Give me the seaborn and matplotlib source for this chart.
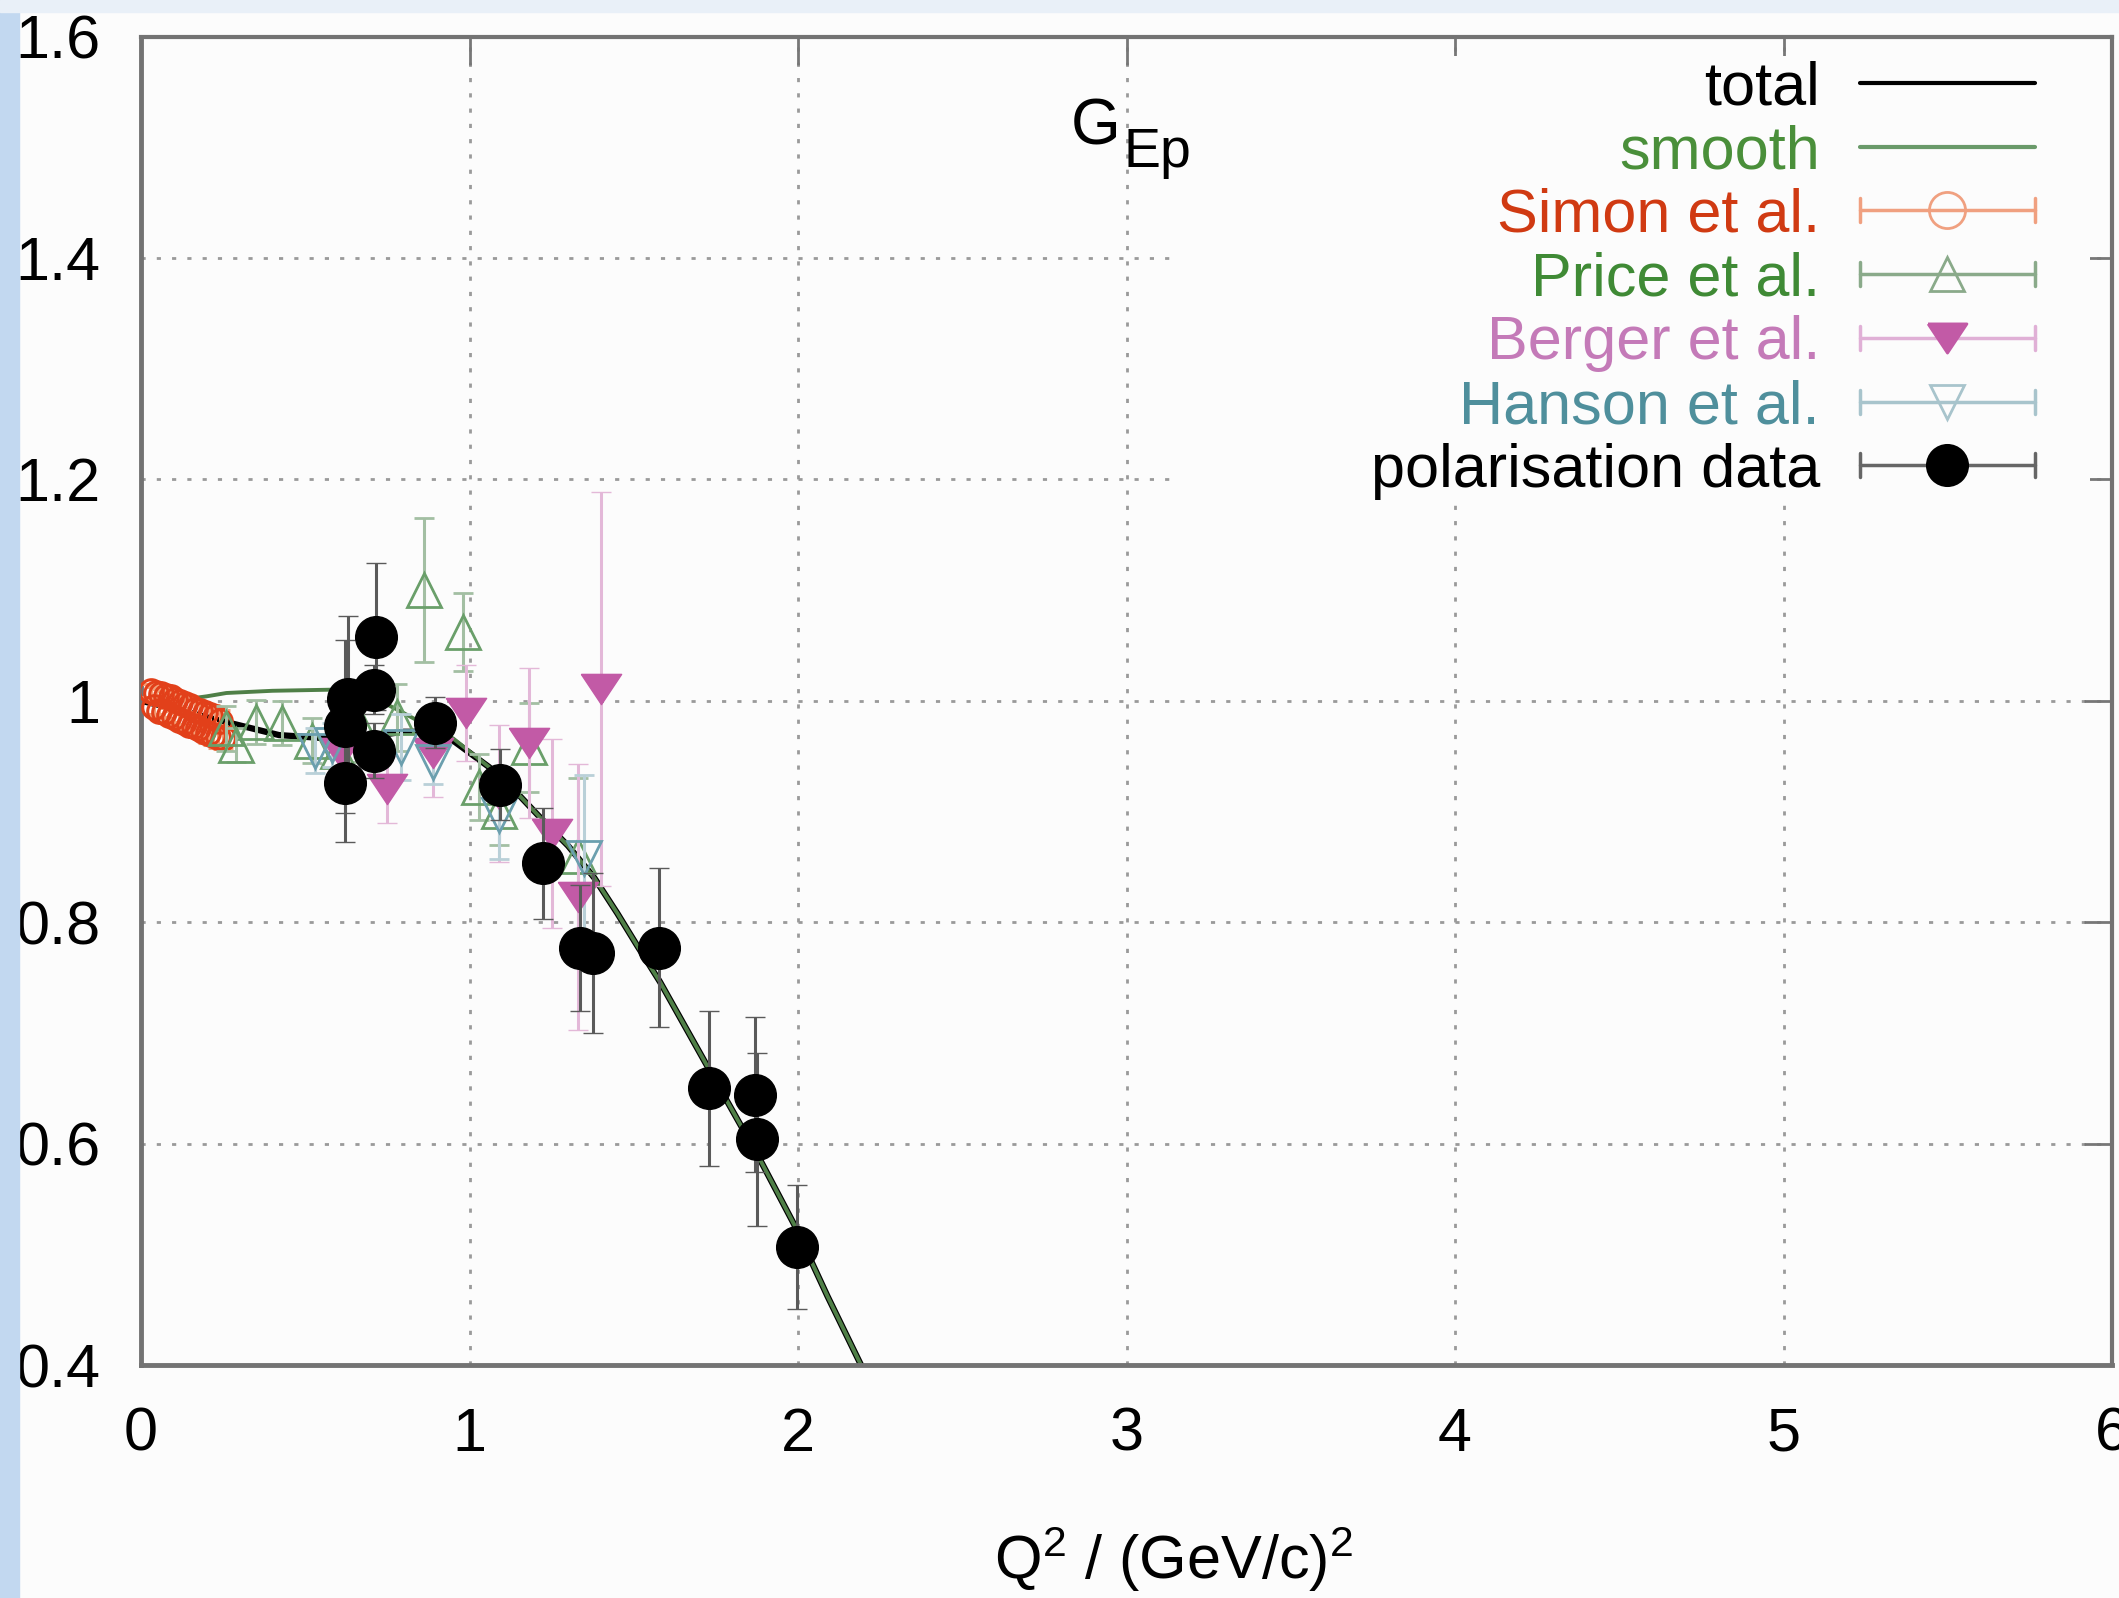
import numpy as np
import matplotlib
matplotlib.use('Agg')
import matplotlib.pyplot as plt
import seaborn as sns
from matplotlib.lines import Line2D
from matplotlib.patches import Rectangle
from matplotlib.legend_handler import HandlerBase

# curves
total_x = [0.0, 0.1, 0.2, 0.27, 0.42, 0.57, 0.7, 0.8, 0.88, 0.95, 1.06, 1.15, 1.22, 1.30, 1.38, 1.45, 1.51, 1.58, 1.72, 1.88, 1.99, 2.09, 2.2]
total_y = [1.0, 0.993, 0.985, 0.980, 0.969, 0.966, 0.968, 0.972, 0.972, 0.964, 0.940, 0.915, 0.893, 0.869, 0.840, 0.808, 0.779, 0.746, 0.672, 0.588, 0.526, 0.462, 0.395]
smooth_x = [0.0, 0.1, 0.2, 0.26, 0.4, 0.58, 0.7, 0.78, 0.88, 0.95, 1.06, 1.15, 1.22, 1.30, 1.38, 1.45, 1.51, 1.58, 1.72, 1.88, 1.99, 2.09, 2.2]
smooth_y = [1.0, 1.0, 1.004, 1.007, 1.009, 1.010, 1.004, 0.992, 0.976, 0.966, 0.940, 0.915, 0.893, 0.869, 0.840, 0.808, 0.779, 0.746, 0.672, 0.588, 0.526, 0.462, 0.395]

# data sets
simon_x = [0.03, 0.04, 0.045, 0.055, 0.06, 0.07, 0.075, 0.085, 0.09, 0.10, 0.105, 0.115, 0.12, 0.13,
           0.135, 0.145, 0.15, 0.16, 0.165, 0.175, 0.18, 0.19, 0.195, 0.205, 0.21, 0.22, 0.225, 0.235, 0.24, 0.25]
simon_y = [1.009, 0.994, 1.007, 0.991, 1.006, 0.990, 1.004, 0.987, 1.003, 0.985, 1.001, 0.983, 0.999, 0.981,
           0.997, 0.978, 0.995, 0.977, 0.992, 0.975, 0.991, 0.973, 0.989, 0.971, 0.987, 0.969, 0.985, 0.967, 0.982, 0.966]
simon_err = [0.006, 0.006, 0.005, 0.006, 0.005, 0.006, 0.005, 0.006, 0.005, 0.006, 0.006, 0.006, 0.006, 0.007, 0.007,
             0.007, 0.007, 0.008, 0.008, 0.008, 0.008, 0.008, 0.008, 0.009, 0.009, 0.009, 0.009, 0.010, 0.010, 0.010]

price_x = [0.26, 0.29, 0.35, 0.43, 0.52, 0.60, 0.67, 0.78, 0.86, 0.98, 1.03, 1.09, 1.18, 1.33]
price_y = [0.975, 0.960, 0.981, 0.980, 0.964, 0.955, 0.975, 0.985, 1.100, 1.062, 0.922, 0.900, 0.958, 0.860]
price_err = [0.02, 0.015, 0.02, 0.02, 0.02, 0.02, 0.03, 0.03, 0.065, 0.035, 0.03, 0.03, 0.04, 0.07]

berger_x = [0.61, 0.75, 0.89, 0.99, 1.09, 1.18, 1.25, 1.33, 1.40]
berger_y = [0.953, 0.920, 0.953, 0.989, 0.916, 0.962, 0.880, 0.823, 1.011]
berger_err = [0.03, 0.03, 0.04, 0.043, 0.062, 0.068, 0.085, 0.12, 0.178]

hanson_x = [0.53, 0.58, 0.79, 0.89, 1.09, 1.35]
hanson_y = [0.955, 0.960, 0.958, 0.945, 0.897, 0.858]
hanson_err = [0.02, 0.02, 0.03, 0.02, 0.04, 0.075]

pol_x = [0.62, 0.62, 0.63, 0.71, 0.71, 0.715, 0.895, 1.093, 1.224, 1.336, 1.376, 1.577, 1.729, 1.869, 1.875, 1.997]
pol_y = [0.926, 0.977, 1.002, 0.955, 1.010, 1.058, 0.980, 0.924, 0.853, 0.777, 0.772, 0.777, 0.650, 0.644, 0.604, 0.507]
pol_err = [0.054, 0.078, 0.075, 0.025, 0.022, 0.066, 0.023, 0.032, 0.05, 0.057, 0.072, 0.072, 0.07, 0.07, 0.078, 0.056]

x_ticks = [0, 1, 2, 3, 4, 5, 6]
x_tick_labels = ['0', '1', '2', '3', '4', '5', '6']
y_ticks = [0.4, 0.6, 0.8, 1.0, 1.2, 1.4, 1.6]
y_tick_labels = ['0.4', '0.6', '0.8', '1', '1.2', '1.4', '1.6']

legend_labels = ['total', 'smooth', 'Simon et al.', 'Price et al.', 'Berger et al.', 'Hanson et al.', 'polarisation data']
legend_colors = ['black', '#4a8f3a', '#d03a12', '#3f8a35', '#c47ab8', '#4f8f9c', 'black']

down_tri = [(-1, 0.75), (1, 0.75), (0, -0.75), (-1, 0.75)]

sns.set_theme(style='white')
plt.rcParams['font.family'] = ['Liberation Sans', 'DejaVu Sans']
plt.rcParams['mathtext.fontset'] = 'custom'
plt.rcParams['mathtext.rm'] = 'Liberation Sans'
plt.rcParams['mathtext.it'] = 'Liberation Sans'

bg = '#fcfcfc'
fig = plt.figure(figsize=(21.19, 15.98), dpi=100, facecolor=bg)
fig.patches.append(Rectangle((0, 0), 19 / 2119, 1, transform=fig.transFigure, color='#c2d8f0', zorder=0))
fig.patches.append(Rectangle((0, 1 - 12 / 1598), 1, 12 / 1598, transform=fig.transFigure, color='#e9f0f8', zorder=0))

ax = fig.add_axes([141 / 2119, 1 - 1365 / 1598, 1971 / 2119, 1328.5 / 1598])
ax.set_facecolor(bg)
ax.set_axisbelow(True)

# opaque key box
ax.add_patch(Rectangle((0.523, 0.6534), 0.466, 0.332, transform=ax.transAxes,
                       facecolor=bg, edgecolor='none', zorder=1))

sns.lineplot(x=total_x, y=total_y, ax=ax, color='black', lw=4.5, sort=False,
             estimator=None, legend=False, zorder=2)
sns.lineplot(x=smooth_x, y=smooth_y, ax=ax, color='#4f7f47', lw=2.8, sort=False,
             estimator=None, legend=False, zorder=2.1)

eb = dict(elinewidth=2.2, capsize=7, capthick=2.5, ls='none')
ax.errorbar(simon_x, simon_y, yerr=simon_err, ecolor='#f2a27a', marker='o', ms=17,
            mfc='none', mec='#e2401a', mew=2.2, zorder=3, **eb)
ax.errorbar(price_x, price_y, yerr=price_err, ecolor='#a3bfa3', marker='^', ms=25,
            mfc='none', mec='#6a9f6a', mew=2, zorder=3.1, **eb)
ax.errorbar(berger_x, berger_y, yerr=berger_err, ecolor='#e3b8d8', marker=down_tri, ms=29,
            mfc='#c25aa6', mec='#c25aa6', mew=1, zorder=3.2, **eb)
ax.errorbar(hanson_x, hanson_y, yerr=hanson_err, ecolor='#b9d0d8', marker='v', ms=24,
            mfc='none', mec='#6b9fae', mew=2, zorder=3.3, **eb)
ax.errorbar(pol_x, pol_y, yerr=pol_err, ecolor='#5a5a5a', marker='o', ms=30,
            mfc='black', mec='black', mew=1, zorder=3.4, **eb)

ax.set_xlim(0, 6)
ax.set_ylim(0.4, 1.6)
ax.set_xticks(x_ticks)
ax.set_xticklabels(x_tick_labels, fontsize=44)
ax.set_yticks(y_ticks)
ax.set_yticklabels(y_tick_labels, fontsize=44)
ax.tick_params(axis='both', direction='in', length=20, width=2, color='#777777',
               top=True, right=True, labelcolor='black')
ax.tick_params(axis='x', pad=30)
ax.tick_params(axis='y', pad=29)
ax.grid(True, ls=(0, (1.5, 4)), color='#9a9a9a', lw=2)
for s in ax.spines.values():
    s.set_color('#737373')
    s.set_linewidth(3)
ax.spines['left'].set_linewidth(3.5)
ax.spines['bottom'].set_linewidth(3.5)

ax.set_xlabel(r'Q$^2$ / (GeV/c)$^2$', fontsize=44, color='black')
ax.xaxis.set_label_coords(0.524, -0.12)

ax.text(2.83, 1.502, 'G', fontsize=46, color='black')
ax.text(2.99, 1.482, 'Ep', fontsize=40, color='black')


class ErrKey(HandlerBase):
    def __init__(self, marker, ms, mfc, mec, ecolor):
        super().__init__()
        self.marker, self.ms, self.mfc, self.mec, self.ecolor = marker, ms, mfc, mec, ecolor

    def create_artists(self, legend, orig_handle, xdescent, ydescent, width, height, fontsize, trans):
        y = height / 2 - ydescent
        x0, x1 = -xdescent, width - xdescent
        c = height * 0.28
        arts = [Line2D([x0, x1], [y, y], color=self.ecolor, lw=2.5),
                Line2D([x0, x0], [y - c, y + c], color=self.ecolor, lw=2.5),
                Line2D([x1, x1], [y - c, y + c], color=self.ecolor, lw=2.5),
                Line2D([(x0 + x1) / 2], [y], ls='none', marker=self.marker, ms=self.ms,
                       mfc=self.mfc, mec=self.mec, mew=2)]
        for a in arts:
            a.set_transform(trans)
        return arts


h_total = Line2D([], [], color='black', lw=3)
h_smooth = Line2D([], [], color='#6a9a6a', lw=3)
h_simon, h_price, h_berger, h_hanson, h_pol = [Line2D([], []) for _ in range(5)]
hmap = {
    h_simon: ErrKey('o', 26, 'none', '#f0a080', '#f0a080'),
    h_price: ErrKey('^', 24, 'none', '#8aaa8a', '#8aaa8a'),
    h_berger: ErrKey(down_tri, 28, '#c25aa6', '#c25aa6', '#e0b0d6'),
    h_hanson: ErrKey('v', 24, 'none', '#a8c4cc', '#a8c4cc'),
    h_pol: ErrKey('o', 29, 'black', 'black', '#666666'),
}
ax.legend([h_total, h_smooth, h_simon, h_price, h_berger, h_hanson, h_pol], legend_labels,
          handler_map=hmap, loc='upper right', bbox_to_anchor=(0.961, 0.982), frameon=False,
          markerfirst=False, fontsize=44, handlelength=2.87, handletextpad=0.65,
          labelspacing=0.11, borderpad=0, borderaxespad=0, labelcolor=legend_colors)

fig.savefig('out.png', dpi=100, facecolor=fig.get_facecolor())
